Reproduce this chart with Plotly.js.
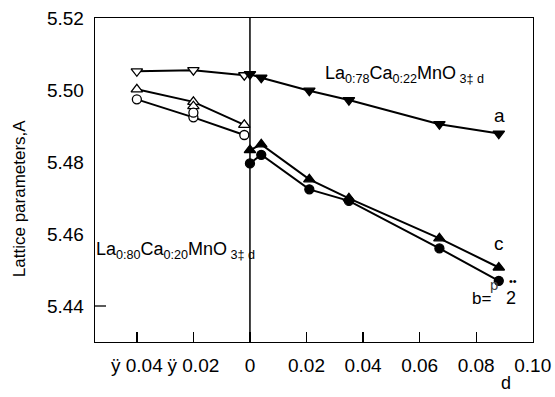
<!DOCTYPE html>
<html>
<head>
<meta charset="utf-8">
<script src="https://cdn.plot.ly/plotly-3.0.1.min.js"></script>
<style>html,body{margin:0;padding:0;background:#fff;}#chart{width:555px;height:397px;}</style>
</head>
<body>
<div id="chart"></div>
<script>
// La0.80Ca0.20MnO3+d (negative side), open symbols
const openDownX = [-0.040, -0.020, -0.002];
const openDownY = [5.5052, 5.5055, 5.5041];
const openUpX = [-0.040, -0.020, -0.002];
const openUpY = [5.5002, 5.4967, 5.4903];
const openCircX = [-0.040, -0.020, -0.002];
const openCircY = [5.4974, 5.4924, 5.4875];
const extraUpX = [-0.020];
const extraUpY = [5.4955];
const extraCircX = [-0.020];
const extraCircY = [5.4937];
// La0.78Ca0.22MnO3+d (positive side), filled symbols
const filledDownX = [0.000, 0.004, 0.021, 0.035, 0.067, 0.088];
const filledDownY = [5.5044, 5.5034, 5.4998, 5.4972, 5.4905, 5.4879];
const filledUpX = [0.000, 0.004, 0.021, 0.035, 0.067, 0.088];
const filledUpY = [5.4833, 5.4849, 5.4752, 5.4699, 5.4588, 5.4507];
const filledCircX = [0.000, 0.004, 0.021, 0.035, 0.067, 0.088];
const filledCircY = [5.4796, 5.4820, 5.4724, 5.4692, 5.4560, 5.4470];

const xTickVals = [-0.04, -0.02, 0, 0.02, 0.04, 0.06, 0.08, 0.10];
const xTickText = ['ÿ 0.04', 'ÿ 0.02', '0', '0.02', '0.04', '0.06', '0.08', '0.10'];
const yTickVals = [5.44, 5.46, 5.48, 5.50, 5.52];
const yTickText = ['5.44', '5.46', '5.48', '5.50', '5.52'];

const FONT = 'Liberation Sans, Arial, sans-serif';
const L = 95, T = 18, W = 438, H = 323.7;
const px = x => (x - L) / W;
const py = y => (T + H - y) / H;

function tr(x, y, sym, mode) {
  const open = sym.indexOf('-open') > 0;
  const s = sym.replace('-open', '');
  return {
    x: x, y: y, type: 'scatter', mode: mode || 'lines+markers',
    line: {color: '#000', width: 2},
    marker: {symbol: s, size: s === 'circle' ? 9 : 10, color: open ? '#fff' : '#000',
             line: {color: '#000', width: 1.3}},
    showlegend: false, hoverinfo: 'none', cliponaxis: false
  };
}

const data = [
  tr(openDownX, openDownY, 'triangle-down-open'),
  tr(openUpX, openUpY, 'triangle-up-open'),
  tr(openCircX, openCircY, 'circle-open'),
  tr(extraUpX, extraUpY, 'triangle-up-open', 'markers'),
  tr(extraCircX, extraCircY, 'circle-open', 'markers'),
  tr(filledDownX, filledDownY, 'triangle-down'),
  tr(filledUpX, filledUpY, 'triangle-up'),
  tr(filledCircX, filledCircY, 'circle')
];

function ann(text, x, y, size, extra) {
  return Object.assign({text: text, xref: 'paper', yref: 'paper', x: px(x), y: py(y),
    showarrow: false, font: {family: FONT, size: size, color: '#000'}, xanchor: 'center', yanchor: 'middle'}, extra || {});
}

const layout = {
  width: 555, height: 397,
  margin: {l: L, r: 555 - L - W, t: T, b: 397 - T - H},
  paper_bgcolor: '#fff', plot_bgcolor: '#fff',
  font: {family: FONT, color: '#000'},
  xaxis: {
    range: [-0.0548, 0.1001], tickvals: xTickVals, ticktext: xTickText,
    ticks: 'inside', ticklen: 10, tickwidth: 1.3, tickcolor: '#000',
    showline: true, linecolor: '#000', linewidth: 1.3, mirror: true,
    showgrid: false, zeroline: false, tickfont: {family: FONT, size: 19, color: '#000'},
    ticklabelstandoff: 6
  },
  yaxis: {
    range: [5.43, 5.52], tickvals: yTickVals, ticktext: yTickText,
    ticks: '', showline: true, linecolor: '#000', linewidth: 1.3, mirror: true,
    showgrid: false, zeroline: false, tickfont: {family: FONT, size: 19, color: '#000'},
    ticklabelstandoff: 6
  },
  shapes: [
    {type: 'line', xref: 'x', yref: 'paper', x0: 0, x1: 0, y0: 0, y1: 1, line: {color: '#000', width: 1.5}},
    {type: 'line', xref: 'paper', yref: 'y', x0: 0, x1: 11 / W, y0: 5.44, y1: 5.44, line: {color: '#000', width: 1.3}}
  ],
  annotations: [
    ann('Lattice parameters,A', 19, 198, 17, {textangle: -90}),
    ann('d', 506, 383, 18),
    ann('La<sub>0:78</sub>Ca<sub>0:22</sub>MnO<sub> 3‡ d</sub>', 323, 74, 18, {xanchor: 'left'}),
    ann('La<sub>0:80</sub>Ca<sub>0:20</sub>MnO<sub> 3‡ d</sub>', 94, 250, 18, {xanchor: 'left'}),
    ann('a', 499, 115, 19),
    ann('c', 499, 243, 19),
    ann('p', 494, 284, 15, {font: {family: FONT, size: 15, color: '#444'}}),
    ann('b=', 481, 298, 17),
    ann('2', 511, 298, 18),
    ann('••', 513, 281, 11)
  ]
};

Plotly.newPlot('chart', data, layout, {staticPlot: true, displayModeBar: false});
</script>
</body>
</html>
